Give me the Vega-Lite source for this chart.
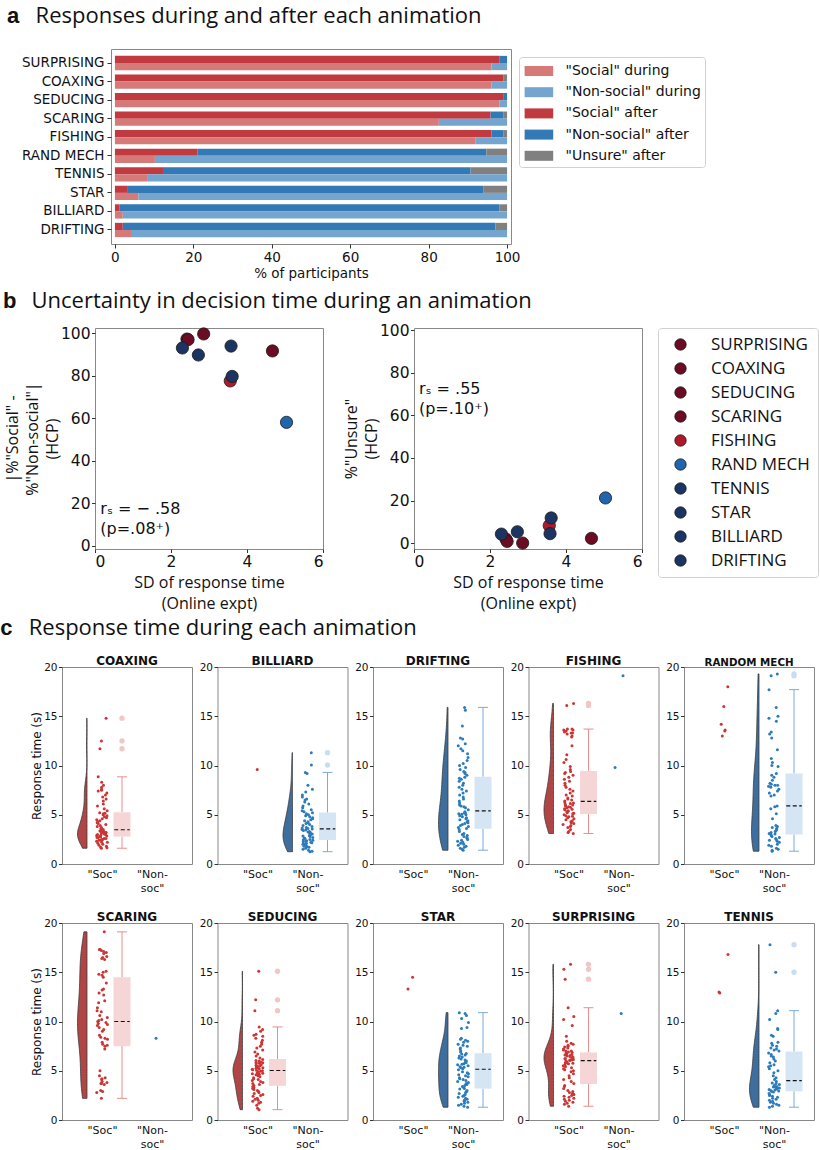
{
"$schema": "https://vega.github.io/schema/vega-lite/v6.json",
"background": "white",
"padding": {"left": 0, "top": 4, "right": 2, "bottom": 2},
"config": {
  "font": "DejaVu Sans",
  "view": {"stroke": "#888888", "strokeWidth": 1},
  "axis": {"grid": false, "domain": false, "tickColor": "#333333", "tickSize": 3.5, "labelColor": "#111111", "titleColor": "#111111", "titleFontWeight": "normal", "labelFontSize": 11, "titleFontSize": 12, "labelPadding": 1.5, "titlePadding": 0},
  "axisY": {"labelFontSize": 10.5},
  "title": {"color": "#111111", "subtitleColor": "#111111"},
  "legend": {"labelColor": "#111111"}
},
"datasets": {
"bars": [
{"anim":"SURPRISING","when":"after","lab":"\"Social\" after","pct":98},
{"anim":"SURPRISING","when":"after","lab":"\"Non-social\" after","pct":2},
{"anim":"SURPRISING","when":"during","lab":"\"Social\" during","pct":96},
{"anim":"SURPRISING","when":"during","lab":"\"Non-social\" during","pct":4},
{"anim":"COAXING","when":"after","lab":"\"Social\" after","pct":99},
{"anim":"COAXING","when":"after","lab":"\"Unsure\" after","pct":1},
{"anim":"COAXING","when":"during","lab":"\"Social\" during","pct":96},
{"anim":"COAXING","when":"during","lab":"\"Non-social\" during","pct":4},
{"anim":"SEDUCING","when":"after","lab":"\"Social\" after","pct":99},
{"anim":"SEDUCING","when":"after","lab":"\"Non-social\" after","pct":1},
{"anim":"SEDUCING","when":"during","lab":"\"Social\" during","pct":98},
{"anim":"SEDUCING","when":"during","lab":"\"Non-social\" during","pct":2},
{"anim":"SCARING","when":"after","lab":"\"Social\" after","pct":95.8},
{"anim":"SCARING","when":"after","lab":"\"Non-social\" after","pct":3.2},
{"anim":"SCARING","when":"after","lab":"\"Unsure\" after","pct":1},
{"anim":"SCARING","when":"during","lab":"\"Social\" during","pct":82.6},
{"anim":"SCARING","when":"during","lab":"\"Non-social\" during","pct":17.4},
{"anim":"FISHING","when":"after","lab":"\"Social\" after","pct":96},
{"anim":"FISHING","when":"after","lab":"\"Non-social\" after","pct":3},
{"anim":"FISHING","when":"after","lab":"\"Unsure\" after","pct":1},
{"anim":"FISHING","when":"during","lab":"\"Social\" during","pct":92},
{"anim":"FISHING","when":"during","lab":"\"Non-social\" during","pct":8},
{"anim":"RAND MECH","when":"after","lab":"\"Social\" after","pct":21},
{"anim":"RAND MECH","when":"after","lab":"\"Non-social\" after","pct":73.7},
{"anim":"RAND MECH","when":"after","lab":"\"Unsure\" after","pct":5.3},
{"anim":"RAND MECH","when":"during","lab":"\"Social\" during","pct":10.2},
{"anim":"RAND MECH","when":"during","lab":"\"Non-social\" during","pct":89.8},
{"anim":"TENNIS","when":"after","lab":"\"Social\" after","pct":12.5},
{"anim":"TENNIS","when":"after","lab":"\"Non-social\" after","pct":78.2},
{"anim":"TENNIS","when":"after","lab":"\"Unsure\" after","pct":9.3},
{"anim":"TENNIS","when":"during","lab":"\"Social\" during","pct":8.2},
{"anim":"TENNIS","when":"during","lab":"\"Non-social\" during","pct":91.8},
{"anim":"STAR","when":"after","lab":"\"Social\" after","pct":3.1},
{"anim":"STAR","when":"after","lab":"\"Non-social\" after","pct":90.8},
{"anim":"STAR","when":"after","lab":"\"Unsure\" after","pct":6.1},
{"anim":"STAR","when":"during","lab":"\"Social\" during","pct":6},
{"anim":"STAR","when":"during","lab":"\"Non-social\" during","pct":94},
{"anim":"BILLIARD","when":"after","lab":"\"Social\" after","pct":1.1},
{"anim":"BILLIARD","when":"after","lab":"\"Non-social\" after","pct":96.9},
{"anim":"BILLIARD","when":"after","lab":"\"Unsure\" after","pct":2},
{"anim":"BILLIARD","when":"during","lab":"\"Social\" during","pct":2},
{"anim":"BILLIARD","when":"during","lab":"\"Non-social\" during","pct":98},
{"anim":"DRIFTING","when":"after","lab":"\"Social\" after","pct":2},
{"anim":"DRIFTING","when":"after","lab":"\"Non-social\" after","pct":95},
{"anim":"DRIFTING","when":"after","lab":"\"Unsure\" after","pct":3},
{"anim":"DRIFTING","when":"during","lab":"\"Social\" during","pct":4.1},
{"anim":"DRIFTING","when":"during","lab":"\"Non-social\" during","pct":95.9}
],
"sc": [
{"anim":"SURPRISING","sd":2.42,"diff":97.3,"unsure":1.9},
{"anim":"COAXING","sd":2.45,"diff":97.0,"unsure":0.8},
{"anim":"SEDUCING","sd":2.86,"diff":99.7,"unsure":0.0},
{"anim":"SCARING","sd":4.67,"diff":91.7,"unsure":2.2},
{"anim":"FISHING","sd":3.56,"diff":77.6,"unsure":8.2},
{"anim":"RAND MECH","sd":5.04,"diff":58.1,"unsure":21.2},
{"anim":"TENNIS","sd":3.61,"diff":79.7,"unsure":11.8},
{"anim":"STAR","sd":3.58,"diff":94.0,"unsure":4.4},
{"anim":"BILLIARD","sd":2.72,"diff":89.8,"unsure":5.3},
{"anim":"DRIFTING","sd":2.30,"diff":93.1,"unsure":4.2}
],
"rt": [
{"a":"COAXING","r":"S","t":1.6},{"a":"COAXING","r":"S","t":1.65},{"a":"COAXING","r":"S","t":1.7},{"a":"COAXING","r":"S","t":1.8},{"a":"COAXING","r":"S","t":1.9},{"a":"COAXING","r":"S","t":2.0},{"a":"COAXING","r":"S","t":2.1},{"a":"COAXING","r":"S","t":2.2},{"a":"COAXING","r":"S","t":2.2},{"a":"COAXING","r":"S","t":2.3},{"a":"COAXING","r":"S","t":2.4},{"a":"COAXING","r":"S","t":2.4},{"a":"COAXING","r":"S","t":2.5},{"a":"COAXING","r":"S","t":2.5},{"a":"COAXING","r":"S","t":2.6},{"a":"COAXING","r":"S","t":2.6},{"a":"COAXING","r":"S","t":2.7},{"a":"COAXING","r":"S","t":2.7},{"a":"COAXING","r":"S","t":2.75},{"a":"COAXING","r":"S","t":2.8},{"a":"COAXING","r":"S","t":2.85},{"a":"COAXING","r":"S","t":2.9},{"a":"COAXING","r":"S","t":2.95},{"a":"COAXING","r":"S","t":3.0},{"a":"COAXING","r":"S","t":3.0},{"a":"COAXING","r":"S","t":3.05},{"a":"COAXING","r":"S","t":3.1},{"a":"COAXING","r":"S","t":3.1},{"a":"COAXING","r":"S","t":3.15},{"a":"COAXING","r":"S","t":3.2},{"a":"COAXING","r":"S","t":3.2},{"a":"COAXING","r":"S","t":3.25},{"a":"COAXING","r":"S","t":3.3},{"a":"COAXING","r":"S","t":3.3},{"a":"COAXING","r":"S","t":3.35},{"a":"COAXING","r":"S","t":3.4},{"a":"COAXING","r":"S","t":3.4},{"a":"COAXING","r":"S","t":3.45},{"a":"COAXING","r":"S","t":3.5},{"a":"COAXING","r":"S","t":3.6},{"a":"COAXING","r":"S","t":3.7},{"a":"COAXING","r":"S","t":3.8},{"a":"COAXING","r":"S","t":3.9},{"a":"COAXING","r":"S","t":4.0},{"a":"COAXING","r":"S","t":4.1},{"a":"COAXING","r":"S","t":4.2},{"a":"COAXING","r":"S","t":4.3},{"a":"COAXING","r":"S","t":4.4},{"a":"COAXING","r":"S","t":4.5},{"a":"COAXING","r":"S","t":4.6},{"a":"COAXING","r":"S","t":4.7},{"a":"COAXING","r":"S","t":4.8},{"a":"COAXING","r":"S","t":4.9},{"a":"COAXING","r":"S","t":5.0},{"a":"COAXING","r":"S","t":5.1},{"a":"COAXING","r":"S","t":5.15},{"a":"COAXING","r":"S","t":5.2},{"a":"COAXING","r":"S","t":5.4},{"a":"COAXING","r":"S","t":5.6},{"a":"COAXING","r":"S","t":5.9},{"a":"COAXING","r":"S","t":6.1},{"a":"COAXING","r":"S","t":6.4},{"a":"COAXING","r":"S","t":6.6},{"a":"COAXING","r":"S","t":6.8},{"a":"COAXING","r":"S","t":7.0},{"a":"COAXING","r":"S","t":7.2},{"a":"COAXING","r":"S","t":7.4},{"a":"COAXING","r":"S","t":7.5},{"a":"COAXING","r":"S","t":7.6},{"a":"COAXING","r":"S","t":7.8},{"a":"COAXING","r":"S","t":8.0},{"a":"COAXING","r":"S","t":8.3},{"a":"COAXING","r":"S","t":8.85},{"a":"COAXING","r":"S","t":11.7},{"a":"COAXING","r":"S","t":12.5},{"a":"COAXING","r":"S","t":14.8},
{"a":"BILLIARD","r":"S","t":9.6},
{"a":"BILLIARD","r":"N","t":1.25},{"a":"BILLIARD","r":"N","t":1.3},{"a":"BILLIARD","r":"N","t":1.4},{"a":"BILLIARD","r":"N","t":1.5},{"a":"BILLIARD","r":"N","t":1.6},{"a":"BILLIARD","r":"N","t":1.7},{"a":"BILLIARD","r":"N","t":1.75},{"a":"BILLIARD","r":"N","t":1.8},{"a":"BILLIARD","r":"N","t":1.9},{"a":"BILLIARD","r":"N","t":2.0},{"a":"BILLIARD","r":"N","t":2.0},{"a":"BILLIARD","r":"N","t":2.1},{"a":"BILLIARD","r":"N","t":2.15},{"a":"BILLIARD","r":"N","t":2.2},{"a":"BILLIARD","r":"N","t":2.25},{"a":"BILLIARD","r":"N","t":2.3},{"a":"BILLIARD","r":"N","t":2.35},{"a":"BILLIARD","r":"N","t":2.4},{"a":"BILLIARD","r":"N","t":2.44},{"a":"BILLIARD","r":"N","t":2.5},{"a":"BILLIARD","r":"N","t":2.6},{"a":"BILLIARD","r":"N","t":2.65},{"a":"BILLIARD","r":"N","t":2.7},{"a":"BILLIARD","r":"N","t":2.8},{"a":"BILLIARD","r":"N","t":2.85},{"a":"BILLIARD","r":"N","t":2.9},{"a":"BILLIARD","r":"N","t":3.0},{"a":"BILLIARD","r":"N","t":3.05},{"a":"BILLIARD","r":"N","t":3.1},{"a":"BILLIARD","r":"N","t":3.2},{"a":"BILLIARD","r":"N","t":3.25},{"a":"BILLIARD","r":"N","t":3.3},{"a":"BILLIARD","r":"N","t":3.4},{"a":"BILLIARD","r":"N","t":3.45},{"a":"BILLIARD","r":"N","t":3.5},{"a":"BILLIARD","r":"N","t":3.55},{"a":"BILLIARD","r":"N","t":3.6},{"a":"BILLIARD","r":"N","t":3.66},{"a":"BILLIARD","r":"N","t":3.7},{"a":"BILLIARD","r":"N","t":3.8},{"a":"BILLIARD","r":"N","t":3.9},{"a":"BILLIARD","r":"N","t":4.0},{"a":"BILLIARD","r":"N","t":4.1},{"a":"BILLIARD","r":"N","t":4.2},{"a":"BILLIARD","r":"N","t":4.3},{"a":"BILLIARD","r":"N","t":4.4},{"a":"BILLIARD","r":"N","t":4.5},{"a":"BILLIARD","r":"N","t":4.6},{"a":"BILLIARD","r":"N","t":4.7},{"a":"BILLIARD","r":"N","t":4.8},{"a":"BILLIARD","r":"N","t":4.9},{"a":"BILLIARD","r":"N","t":5.0},{"a":"BILLIARD","r":"N","t":5.1},{"a":"BILLIARD","r":"N","t":5.2},{"a":"BILLIARD","r":"N","t":5.3},{"a":"BILLIARD","r":"N","t":5.4},{"a":"BILLIARD","r":"N","t":5.5},{"a":"BILLIARD","r":"N","t":5.7},{"a":"BILLIARD","r":"N","t":5.9},{"a":"BILLIARD","r":"N","t":6.1},{"a":"BILLIARD","r":"N","t":6.3},{"a":"BILLIARD","r":"N","t":6.5},{"a":"BILLIARD","r":"N","t":6.6},{"a":"BILLIARD","r":"N","t":6.8},{"a":"BILLIARD","r":"N","t":7.0},{"a":"BILLIARD","r":"N","t":7.3},{"a":"BILLIARD","r":"N","t":7.6},{"a":"BILLIARD","r":"N","t":8.0},{"a":"BILLIARD","r":"N","t":9.2},{"a":"BILLIARD","r":"N","t":9.3},{"a":"BILLIARD","r":"N","t":10.05},{"a":"BILLIARD","r":"N","t":11.3},
{"a":"DRIFTING","r":"N","t":1.4},{"a":"DRIFTING","r":"N","t":1.5},{"a":"DRIFTING","r":"N","t":1.6},{"a":"DRIFTING","r":"N","t":1.7},{"a":"DRIFTING","r":"N","t":1.8},{"a":"DRIFTING","r":"N","t":1.9},{"a":"DRIFTING","r":"N","t":2.0},{"a":"DRIFTING","r":"N","t":2.1},{"a":"DRIFTING","r":"N","t":2.2},{"a":"DRIFTING","r":"N","t":2.3},{"a":"DRIFTING","r":"N","t":2.4},{"a":"DRIFTING","r":"N","t":2.5},{"a":"DRIFTING","r":"N","t":2.6},{"a":"DRIFTING","r":"N","t":2.7},{"a":"DRIFTING","r":"N","t":2.8},{"a":"DRIFTING","r":"N","t":2.9},{"a":"DRIFTING","r":"N","t":3.0},{"a":"DRIFTING","r":"N","t":3.1},{"a":"DRIFTING","r":"N","t":3.3},{"a":"DRIFTING","r":"N","t":3.5},{"a":"DRIFTING","r":"N","t":3.6},{"a":"DRIFTING","r":"N","t":3.7},{"a":"DRIFTING","r":"N","t":3.8},{"a":"DRIFTING","r":"N","t":3.9},{"a":"DRIFTING","r":"N","t":4.0},{"a":"DRIFTING","r":"N","t":4.1},{"a":"DRIFTING","r":"N","t":4.2},{"a":"DRIFTING","r":"N","t":4.3},{"a":"DRIFTING","r":"N","t":4.4},{"a":"DRIFTING","r":"N","t":4.5},{"a":"DRIFTING","r":"N","t":4.6},{"a":"DRIFTING","r":"N","t":4.7},{"a":"DRIFTING","r":"N","t":4.8},{"a":"DRIFTING","r":"N","t":4.9},{"a":"DRIFTING","r":"N","t":5.0},{"a":"DRIFTING","r":"N","t":5.05},{"a":"DRIFTING","r":"N","t":5.1},{"a":"DRIFTING","r":"N","t":5.15},{"a":"DRIFTING","r":"N","t":5.2},{"a":"DRIFTING","r":"N","t":5.3},{"a":"DRIFTING","r":"N","t":5.5},{"a":"DRIFTING","r":"N","t":5.7},{"a":"DRIFTING","r":"N","t":5.8},{"a":"DRIFTING","r":"N","t":5.9},{"a":"DRIFTING","r":"N","t":6.0},{"a":"DRIFTING","r":"N","t":6.2},{"a":"DRIFTING","r":"N","t":6.4},{"a":"DRIFTING","r":"N","t":6.6},{"a":"DRIFTING","r":"N","t":6.8},{"a":"DRIFTING","r":"N","t":7.0},{"a":"DRIFTING","r":"N","t":7.2},{"a":"DRIFTING","r":"N","t":7.4},{"a":"DRIFTING","r":"N","t":7.6},{"a":"DRIFTING","r":"N","t":7.8},{"a":"DRIFTING","r":"N","t":8.0},{"a":"DRIFTING","r":"N","t":8.2},{"a":"DRIFTING","r":"N","t":8.4},{"a":"DRIFTING","r":"N","t":8.6},{"a":"DRIFTING","r":"N","t":8.7},{"a":"DRIFTING","r":"N","t":8.8},{"a":"DRIFTING","r":"N","t":9.0},{"a":"DRIFTING","r":"N","t":9.2},{"a":"DRIFTING","r":"N","t":9.3},{"a":"DRIFTING","r":"N","t":9.4},{"a":"DRIFTING","r":"N","t":9.6},{"a":"DRIFTING","r":"N","t":9.8},{"a":"DRIFTING","r":"N","t":10.0},{"a":"DRIFTING","r":"N","t":10.2},{"a":"DRIFTING","r":"N","t":10.5},{"a":"DRIFTING","r":"N","t":10.8},{"a":"DRIFTING","r":"N","t":11.2},{"a":"DRIFTING","r":"N","t":11.5},{"a":"DRIFTING","r":"N","t":11.7},{"a":"DRIFTING","r":"N","t":12.0},{"a":"DRIFTING","r":"N","t":12.2},{"a":"DRIFTING","r":"N","t":12.7},{"a":"DRIFTING","r":"N","t":12.8},{"a":"DRIFTING","r":"N","t":14.0},{"a":"DRIFTING","r":"N","t":15.6},{"a":"DRIFTING","r":"N","t":15.9},
{"a":"FISHING","r":"S","t":3.1},{"a":"FISHING","r":"S","t":3.2},{"a":"FISHING","r":"S","t":3.3},{"a":"FISHING","r":"S","t":3.5},{"a":"FISHING","r":"S","t":3.7},{"a":"FISHING","r":"S","t":3.8},{"a":"FISHING","r":"S","t":3.9},{"a":"FISHING","r":"S","t":4.0},{"a":"FISHING","r":"S","t":4.1},{"a":"FISHING","r":"S","t":4.2},{"a":"FISHING","r":"S","t":4.3},{"a":"FISHING","r":"S","t":4.4},{"a":"FISHING","r":"S","t":4.5},{"a":"FISHING","r":"S","t":4.6},{"a":"FISHING","r":"S","t":4.7},{"a":"FISHING","r":"S","t":4.8},{"a":"FISHING","r":"S","t":4.85},{"a":"FISHING","r":"S","t":4.9},{"a":"FISHING","r":"S","t":5.0},{"a":"FISHING","r":"S","t":5.1},{"a":"FISHING","r":"S","t":5.15},{"a":"FISHING","r":"S","t":5.2},{"a":"FISHING","r":"S","t":5.3},{"a":"FISHING","r":"S","t":5.35},{"a":"FISHING","r":"S","t":5.4},{"a":"FISHING","r":"S","t":5.5},{"a":"FISHING","r":"S","t":5.55},{"a":"FISHING","r":"S","t":5.6},{"a":"FISHING","r":"S","t":5.7},{"a":"FISHING","r":"S","t":5.75},{"a":"FISHING","r":"S","t":5.8},{"a":"FISHING","r":"S","t":5.9},{"a":"FISHING","r":"S","t":5.95},{"a":"FISHING","r":"S","t":6.0},{"a":"FISHING","r":"S","t":6.1},{"a":"FISHING","r":"S","t":6.15},{"a":"FISHING","r":"S","t":6.2},{"a":"FISHING","r":"S","t":6.3},{"a":"FISHING","r":"S","t":6.4},{"a":"FISHING","r":"S","t":6.5},{"a":"FISHING","r":"S","t":6.6},{"a":"FISHING","r":"S","t":6.7},{"a":"FISHING","r":"S","t":6.9},{"a":"FISHING","r":"S","t":7.0},{"a":"FISHING","r":"S","t":7.2},{"a":"FISHING","r":"S","t":7.4},{"a":"FISHING","r":"S","t":7.6},{"a":"FISHING","r":"S","t":7.8},{"a":"FISHING","r":"S","t":8.0},{"a":"FISHING","r":"S","t":8.2},{"a":"FISHING","r":"S","t":8.4},{"a":"FISHING","r":"S","t":8.6},{"a":"FISHING","r":"S","t":8.8},{"a":"FISHING","r":"S","t":9.0},{"a":"FISHING","r":"S","t":9.2},{"a":"FISHING","r":"S","t":9.3},{"a":"FISHING","r":"S","t":9.4},{"a":"FISHING","r":"S","t":9.6},{"a":"FISHING","r":"S","t":9.9},{"a":"FISHING","r":"S","t":10.3},{"a":"FISHING","r":"S","t":10.6},{"a":"FISHING","r":"S","t":11.1},{"a":"FISHING","r":"S","t":12.0},{"a":"FISHING","r":"S","t":12.9},{"a":"FISHING","r":"S","t":13.0},{"a":"FISHING","r":"S","t":13.2},{"a":"FISHING","r":"S","t":13.3},{"a":"FISHING","r":"S","t":13.3},{"a":"FISHING","r":"S","t":13.4},{"a":"FISHING","r":"S","t":13.5},{"a":"FISHING","r":"S","t":13.6},{"a":"FISHING","r":"S","t":13.6},{"a":"FISHING","r":"S","t":13.7},{"a":"FISHING","r":"S","t":13.7},{"a":"FISHING","r":"S","t":16.1},{"a":"FISHING","r":"S","t":16.3},
{"a":"FISHING","r":"N","t":9.8},{"a":"FISHING","r":"N","t":19.1},
{"a":"RANDOM MECH","r":"S","t":13.0},{"a":"RANDOM MECH","r":"S","t":13.5},{"a":"RANDOM MECH","r":"S","t":13.6},{"a":"RANDOM MECH","r":"S","t":14.2},{"a":"RANDOM MECH","r":"S","t":16.0},{"a":"RANDOM MECH","r":"S","t":18.0},
{"a":"RANDOM MECH","r":"N","t":1.3},{"a":"RANDOM MECH","r":"N","t":1.4},{"a":"RANDOM MECH","r":"N","t":1.5},{"a":"RANDOM MECH","r":"N","t":1.6},{"a":"RANDOM MECH","r":"N","t":1.8},{"a":"RANDOM MECH","r":"N","t":1.9},{"a":"RANDOM MECH","r":"N","t":2.0},{"a":"RANDOM MECH","r":"N","t":2.2},{"a":"RANDOM MECH","r":"N","t":2.3},{"a":"RANDOM MECH","r":"N","t":2.4},{"a":"RANDOM MECH","r":"N","t":2.5},{"a":"RANDOM MECH","r":"N","t":2.6},{"a":"RANDOM MECH","r":"N","t":2.7},{"a":"RANDOM MECH","r":"N","t":2.8},{"a":"RANDOM MECH","r":"N","t":2.9},{"a":"RANDOM MECH","r":"N","t":3.0},{"a":"RANDOM MECH","r":"N","t":3.05},{"a":"RANDOM MECH","r":"N","t":3.1},{"a":"RANDOM MECH","r":"N","t":3.2},{"a":"RANDOM MECH","r":"N","t":3.3},{"a":"RANDOM MECH","r":"N","t":3.4},{"a":"RANDOM MECH","r":"N","t":3.5},{"a":"RANDOM MECH","r":"N","t":3.6},{"a":"RANDOM MECH","r":"N","t":3.7},{"a":"RANDOM MECH","r":"N","t":3.8},{"a":"RANDOM MECH","r":"N","t":3.9},{"a":"RANDOM MECH","r":"N","t":4.6},{"a":"RANDOM MECH","r":"N","t":5.1},{"a":"RANDOM MECH","r":"N","t":5.6},{"a":"RANDOM MECH","r":"N","t":5.8},{"a":"RANDOM MECH","r":"N","t":5.9},{"a":"RANDOM MECH","r":"N","t":6.9},{"a":"RANDOM MECH","r":"N","t":7.0},{"a":"RANDOM MECH","r":"N","t":7.2},{"a":"RANDOM MECH","r":"N","t":7.4},{"a":"RANDOM MECH","r":"N","t":7.6},{"a":"RANDOM MECH","r":"N","t":7.8},{"a":"RANDOM MECH","r":"N","t":7.9},{"a":"RANDOM MECH","r":"N","t":8.0},{"a":"RANDOM MECH","r":"N","t":8.0},{"a":"RANDOM MECH","r":"N","t":8.1},{"a":"RANDOM MECH","r":"N","t":8.2},{"a":"RANDOM MECH","r":"N","t":8.5},{"a":"RANDOM MECH","r":"N","t":8.8},{"a":"RANDOM MECH","r":"N","t":9.0},{"a":"RANDOM MECH","r":"N","t":9.2},{"a":"RANDOM MECH","r":"N","t":9.9},{"a":"RANDOM MECH","r":"N","t":10.0},{"a":"RANDOM MECH","r":"N","t":10.3},{"a":"RANDOM MECH","r":"N","t":10.7},{"a":"RANDOM MECH","r":"N","t":11.6},{"a":"RANDOM MECH","r":"N","t":12.8},{"a":"RANDOM MECH","r":"N","t":13.2},{"a":"RANDOM MECH","r":"N","t":13.4},{"a":"RANDOM MECH","r":"N","t":14.5},{"a":"RANDOM MECH","r":"N","t":14.8},{"a":"RANDOM MECH","r":"N","t":15.0},{"a":"RANDOM MECH","r":"N","t":15.9},{"a":"RANDOM MECH","r":"N","t":17.7},{"a":"RANDOM MECH","r":"N","t":19.1},{"a":"RANDOM MECH","r":"N","t":19.3},
{"a":"SCARING","r":"S","t":2.2},{"a":"SCARING","r":"S","t":2.8},{"a":"SCARING","r":"S","t":2.9},{"a":"SCARING","r":"S","t":3.0},{"a":"SCARING","r":"S","t":3.6},{"a":"SCARING","r":"S","t":3.7},{"a":"SCARING","r":"S","t":3.7},{"a":"SCARING","r":"S","t":3.8},{"a":"SCARING","r":"S","t":3.9},{"a":"SCARING","r":"S","t":4.1},{"a":"SCARING","r":"S","t":4.2},{"a":"SCARING","r":"S","t":4.3},{"a":"SCARING","r":"S","t":4.5},{"a":"SCARING","r":"S","t":5.0},{"a":"SCARING","r":"S","t":7.2},{"a":"SCARING","r":"S","t":7.5},{"a":"SCARING","r":"S","t":7.6},{"a":"SCARING","r":"S","t":7.7},{"a":"SCARING","r":"S","t":7.9},{"a":"SCARING","r":"S","t":8.2},{"a":"SCARING","r":"S","t":8.3},{"a":"SCARING","r":"S","t":8.4},{"a":"SCARING","r":"S","t":8.6},{"a":"SCARING","r":"S","t":9.0},{"a":"SCARING","r":"S","t":9.2},{"a":"SCARING","r":"S","t":9.4},{"a":"SCARING","r":"S","t":9.6},{"a":"SCARING","r":"S","t":9.7},{"a":"SCARING","r":"S","t":9.8},{"a":"SCARING","r":"S","t":9.9},{"a":"SCARING","r":"S","t":10.0},{"a":"SCARING","r":"S","t":10.1},{"a":"SCARING","r":"S","t":10.2},{"a":"SCARING","r":"S","t":10.4},{"a":"SCARING","r":"S","t":10.6},{"a":"SCARING","r":"S","t":11.0},{"a":"SCARING","r":"S","t":11.1},{"a":"SCARING","r":"S","t":11.4},{"a":"SCARING","r":"S","t":11.9},{"a":"SCARING","r":"S","t":12.1},{"a":"SCARING","r":"S","t":12.7},{"a":"SCARING","r":"S","t":12.9},{"a":"SCARING","r":"S","t":13.2},{"a":"SCARING","r":"S","t":13.3},{"a":"SCARING","r":"S","t":13.9},{"a":"SCARING","r":"S","t":14.5},{"a":"SCARING","r":"S","t":14.7},{"a":"SCARING","r":"S","t":14.8},{"a":"SCARING","r":"S","t":15.0},{"a":"SCARING","r":"S","t":15.1},{"a":"SCARING","r":"S","t":16.3},{"a":"SCARING","r":"S","t":16.4},{"a":"SCARING","r":"S","t":16.5},{"a":"SCARING","r":"S","t":16.6},{"a":"SCARING","r":"S","t":16.9},{"a":"SCARING","r":"S","t":17.0},{"a":"SCARING","r":"S","t":17.1},{"a":"SCARING","r":"S","t":17.2},{"a":"SCARING","r":"S","t":17.3},{"a":"SCARING","r":"S","t":17.3},{"a":"SCARING","r":"S","t":19.1},
{"a":"SCARING","r":"N","t":8.3},
{"a":"SEDUCING","r":"S","t":1.05},{"a":"SEDUCING","r":"S","t":1.2},{"a":"SEDUCING","r":"S","t":1.5},{"a":"SEDUCING","r":"S","t":1.7},{"a":"SEDUCING","r":"S","t":1.8},{"a":"SEDUCING","r":"S","t":1.9},{"a":"SEDUCING","r":"S","t":2.0},{"a":"SEDUCING","r":"S","t":2.1},{"a":"SEDUCING","r":"S","t":2.2},{"a":"SEDUCING","r":"S","t":2.4},{"a":"SEDUCING","r":"S","t":2.5},{"a":"SEDUCING","r":"S","t":2.6},{"a":"SEDUCING","r":"S","t":2.7},{"a":"SEDUCING","r":"S","t":2.8},{"a":"SEDUCING","r":"S","t":2.9},{"a":"SEDUCING","r":"S","t":3.0},{"a":"SEDUCING","r":"S","t":3.1},{"a":"SEDUCING","r":"S","t":3.2},{"a":"SEDUCING","r":"S","t":3.3},{"a":"SEDUCING","r":"S","t":3.4},{"a":"SEDUCING","r":"S","t":3.5},{"a":"SEDUCING","r":"S","t":3.6},{"a":"SEDUCING","r":"S","t":3.7},{"a":"SEDUCING","r":"S","t":3.8},{"a":"SEDUCING","r":"S","t":3.9},{"a":"SEDUCING","r":"S","t":4.0},{"a":"SEDUCING","r":"S","t":4.1},{"a":"SEDUCING","r":"S","t":4.2},{"a":"SEDUCING","r":"S","t":4.3},{"a":"SEDUCING","r":"S","t":4.4},{"a":"SEDUCING","r":"S","t":4.5},{"a":"SEDUCING","r":"S","t":4.55},{"a":"SEDUCING","r":"S","t":4.6},{"a":"SEDUCING","r":"S","t":4.65},{"a":"SEDUCING","r":"S","t":4.7},{"a":"SEDUCING","r":"S","t":4.75},{"a":"SEDUCING","r":"S","t":4.8},{"a":"SEDUCING","r":"S","t":4.9},{"a":"SEDUCING","r":"S","t":4.95},{"a":"SEDUCING","r":"S","t":5.0},{"a":"SEDUCING","r":"S","t":5.05},{"a":"SEDUCING","r":"S","t":5.1},{"a":"SEDUCING","r":"S","t":5.15},{"a":"SEDUCING","r":"S","t":5.2},{"a":"SEDUCING","r":"S","t":5.25},{"a":"SEDUCING","r":"S","t":5.3},{"a":"SEDUCING","r":"S","t":5.35},{"a":"SEDUCING","r":"S","t":5.4},{"a":"SEDUCING","r":"S","t":5.45},{"a":"SEDUCING","r":"S","t":5.5},{"a":"SEDUCING","r":"S","t":5.55},{"a":"SEDUCING","r":"S","t":5.6},{"a":"SEDUCING","r":"S","t":5.7},{"a":"SEDUCING","r":"S","t":5.75},{"a":"SEDUCING","r":"S","t":5.8},{"a":"SEDUCING","r":"S","t":5.85},{"a":"SEDUCING","r":"S","t":5.9},{"a":"SEDUCING","r":"S","t":6.0},{"a":"SEDUCING","r":"S","t":6.05},{"a":"SEDUCING","r":"S","t":6.15},{"a":"SEDUCING","r":"S","t":6.3},{"a":"SEDUCING","r":"S","t":6.5},{"a":"SEDUCING","r":"S","t":6.7},{"a":"SEDUCING","r":"S","t":6.9},{"a":"SEDUCING","r":"S","t":7.1},{"a":"SEDUCING","r":"S","t":7.3},{"a":"SEDUCING","r":"S","t":7.5},{"a":"SEDUCING","r":"S","t":7.7},{"a":"SEDUCING","r":"S","t":7.9},{"a":"SEDUCING","r":"S","t":8.1},{"a":"SEDUCING","r":"S","t":8.3},{"a":"SEDUCING","r":"S","t":8.5},{"a":"SEDUCING","r":"S","t":8.6},{"a":"SEDUCING","r":"S","t":8.7},{"a":"SEDUCING","r":"S","t":9.0},{"a":"SEDUCING","r":"S","t":9.2},{"a":"SEDUCING","r":"S","t":9.45},{"a":"SEDUCING","r":"S","t":11.1},{"a":"SEDUCING","r":"S","t":12.2},{"a":"SEDUCING","r":"S","t":15.1},
{"a":"STAR","r":"S","t":13.3},{"a":"STAR","r":"S","t":14.5},
{"a":"STAR","r":"N","t":1.3},{"a":"STAR","r":"N","t":1.4},{"a":"STAR","r":"N","t":1.5},{"a":"STAR","r":"N","t":1.6},{"a":"STAR","r":"N","t":1.7},{"a":"STAR","r":"N","t":1.8},{"a":"STAR","r":"N","t":1.9},{"a":"STAR","r":"N","t":2.0},{"a":"STAR","r":"N","t":2.1},{"a":"STAR","r":"N","t":2.2},{"a":"STAR","r":"N","t":2.3},{"a":"STAR","r":"N","t":2.4},{"a":"STAR","r":"N","t":2.5},{"a":"STAR","r":"N","t":2.6},{"a":"STAR","r":"N","t":2.7},{"a":"STAR","r":"N","t":2.8},{"a":"STAR","r":"N","t":2.9},{"a":"STAR","r":"N","t":3.0},{"a":"STAR","r":"N","t":3.15},{"a":"STAR","r":"N","t":3.2},{"a":"STAR","r":"N","t":3.3},{"a":"STAR","r":"N","t":3.4},{"a":"STAR","r":"N","t":3.5},{"a":"STAR","r":"N","t":3.6},{"a":"STAR","r":"N","t":3.7},{"a":"STAR","r":"N","t":3.8},{"a":"STAR","r":"N","t":3.9},{"a":"STAR","r":"N","t":4.0},{"a":"STAR","r":"N","t":4.1},{"a":"STAR","r":"N","t":4.2},{"a":"STAR","r":"N","t":4.3},{"a":"STAR","r":"N","t":4.4},{"a":"STAR","r":"N","t":4.5},{"a":"STAR","r":"N","t":4.6},{"a":"STAR","r":"N","t":4.7},{"a":"STAR","r":"N","t":4.8},{"a":"STAR","r":"N","t":4.9},{"a":"STAR","r":"N","t":5.1},{"a":"STAR","r":"N","t":5.2},{"a":"STAR","r":"N","t":5.3},{"a":"STAR","r":"N","t":5.35},{"a":"STAR","r":"N","t":5.4},{"a":"STAR","r":"N","t":5.5},{"a":"STAR","r":"N","t":5.6},{"a":"STAR","r":"N","t":5.65},{"a":"STAR","r":"N","t":5.7},{"a":"STAR","r":"N","t":5.8},{"a":"STAR","r":"N","t":5.9},{"a":"STAR","r":"N","t":6.0},{"a":"STAR","r":"N","t":6.1},{"a":"STAR","r":"N","t":6.2},{"a":"STAR","r":"N","t":6.3},{"a":"STAR","r":"N","t":6.4},{"a":"STAR","r":"N","t":6.5},{"a":"STAR","r":"N","t":6.6},{"a":"STAR","r":"N","t":6.7},{"a":"STAR","r":"N","t":6.75},{"a":"STAR","r":"N","t":6.9},{"a":"STAR","r":"N","t":7.0},{"a":"STAR","r":"N","t":7.2},{"a":"STAR","r":"N","t":7.3},{"a":"STAR","r":"N","t":7.5},{"a":"STAR","r":"N","t":7.6},{"a":"STAR","r":"N","t":7.7},{"a":"STAR","r":"N","t":7.9},{"a":"STAR","r":"N","t":8.0},{"a":"STAR","r":"N","t":8.1},{"a":"STAR","r":"N","t":8.2},{"a":"STAR","r":"N","t":8.3},{"a":"STAR","r":"N","t":9.3},{"a":"STAR","r":"N","t":9.4},{"a":"STAR","r":"N","t":9.9},{"a":"STAR","r":"N","t":10.3},{"a":"STAR","r":"N","t":10.6},{"a":"STAR","r":"N","t":10.8},{"a":"STAR","r":"N","t":10.9},
{"a":"SURPRISING","r":"S","t":1.4},{"a":"SURPRISING","r":"S","t":1.6},{"a":"SURPRISING","r":"S","t":1.7},{"a":"SURPRISING","r":"S","t":1.8},{"a":"SURPRISING","r":"S","t":1.9},{"a":"SURPRISING","r":"S","t":2.0},{"a":"SURPRISING","r":"S","t":2.1},{"a":"SURPRISING","r":"S","t":2.2},{"a":"SURPRISING","r":"S","t":2.3},{"a":"SURPRISING","r":"S","t":2.4},{"a":"SURPRISING","r":"S","t":2.5},{"a":"SURPRISING","r":"S","t":2.6},{"a":"SURPRISING","r":"S","t":2.65},{"a":"SURPRISING","r":"S","t":2.7},{"a":"SURPRISING","r":"S","t":2.8},{"a":"SURPRISING","r":"S","t":2.9},{"a":"SURPRISING","r":"S","t":3.0},{"a":"SURPRISING","r":"S","t":3.2},{"a":"SURPRISING","r":"S","t":3.4},{"a":"SURPRISING","r":"S","t":3.5},{"a":"SURPRISING","r":"S","t":3.7},{"a":"SURPRISING","r":"S","t":3.9},{"a":"SURPRISING","r":"S","t":4.1},{"a":"SURPRISING","r":"S","t":4.3},{"a":"SURPRISING","r":"S","t":4.5},{"a":"SURPRISING","r":"S","t":4.7},{"a":"SURPRISING","r":"S","t":4.9},{"a":"SURPRISING","r":"S","t":5.0},{"a":"SURPRISING","r":"S","t":5.1},{"a":"SURPRISING","r":"S","t":5.2},{"a":"SURPRISING","r":"S","t":5.3},{"a":"SURPRISING","r":"S","t":5.4},{"a":"SURPRISING","r":"S","t":5.5},{"a":"SURPRISING","r":"S","t":5.6},{"a":"SURPRISING","r":"S","t":5.7},{"a":"SURPRISING","r":"S","t":5.75},{"a":"SURPRISING","r":"S","t":5.8},{"a":"SURPRISING","r":"S","t":5.85},{"a":"SURPRISING","r":"S","t":5.9},{"a":"SURPRISING","r":"S","t":6.0},{"a":"SURPRISING","r":"S","t":6.05},{"a":"SURPRISING","r":"S","t":6.1},{"a":"SURPRISING","r":"S","t":6.1},{"a":"SURPRISING","r":"S","t":6.15},{"a":"SURPRISING","r":"S","t":6.2},{"a":"SURPRISING","r":"S","t":6.2},{"a":"SURPRISING","r":"S","t":6.25},{"a":"SURPRISING","r":"S","t":6.3},{"a":"SURPRISING","r":"S","t":6.35},{"a":"SURPRISING","r":"S","t":6.4},{"a":"SURPRISING","r":"S","t":6.45},{"a":"SURPRISING","r":"S","t":6.5},{"a":"SURPRISING","r":"S","t":6.55},{"a":"SURPRISING","r":"S","t":6.6},{"a":"SURPRISING","r":"S","t":6.65},{"a":"SURPRISING","r":"S","t":6.7},{"a":"SURPRISING","r":"S","t":6.75},{"a":"SURPRISING","r":"S","t":6.8},{"a":"SURPRISING","r":"S","t":6.8},{"a":"SURPRISING","r":"S","t":6.85},{"a":"SURPRISING","r":"S","t":6.9},{"a":"SURPRISING","r":"S","t":7.0},{"a":"SURPRISING","r":"S","t":7.0},{"a":"SURPRISING","r":"S","t":7.1},{"a":"SURPRISING","r":"S","t":7.2},{"a":"SURPRISING","r":"S","t":7.3},{"a":"SURPRISING","r":"S","t":7.4},{"a":"SURPRISING","r":"S","t":7.5},{"a":"SURPRISING","r":"S","t":7.6},{"a":"SURPRISING","r":"S","t":7.7},{"a":"SURPRISING","r":"S","t":7.8},{"a":"SURPRISING","r":"S","t":8.0},{"a":"SURPRISING","r":"S","t":8.5},{"a":"SURPRISING","r":"S","t":9.6},{"a":"SURPRISING","r":"S","t":10.2},{"a":"SURPRISING","r":"S","t":10.5},{"a":"SURPRISING","r":"S","t":11.4},{"a":"SURPRISING","r":"S","t":14.3},{"a":"SURPRISING","r":"S","t":15.3},{"a":"SURPRISING","r":"S","t":15.8},
{"a":"SURPRISING","r":"N","t":10.8},
{"a":"TENNIS","r":"S","t":12.9},{"a":"TENNIS","r":"S","t":13.0},{"a":"TENNIS","r":"S","t":16.8},
{"a":"TENNIS","r":"N","t":1.3},{"a":"TENNIS","r":"N","t":1.4},{"a":"TENNIS","r":"N","t":1.5},{"a":"TENNIS","r":"N","t":1.6},{"a":"TENNIS","r":"N","t":1.7},{"a":"TENNIS","r":"N","t":1.8},{"a":"TENNIS","r":"N","t":1.9},{"a":"TENNIS","r":"N","t":2.0},{"a":"TENNIS","r":"N","t":2.1},{"a":"TENNIS","r":"N","t":2.2},{"a":"TENNIS","r":"N","t":2.3},{"a":"TENNIS","r":"N","t":2.4},{"a":"TENNIS","r":"N","t":2.5},{"a":"TENNIS","r":"N","t":2.6},{"a":"TENNIS","r":"N","t":2.7},{"a":"TENNIS","r":"N","t":2.85},{"a":"TENNIS","r":"N","t":2.9},{"a":"TENNIS","r":"N","t":2.95},{"a":"TENNIS","r":"N","t":3.0},{"a":"TENNIS","r":"N","t":3.05},{"a":"TENNIS","r":"N","t":3.1},{"a":"TENNIS","r":"N","t":3.15},{"a":"TENNIS","r":"N","t":3.2},{"a":"TENNIS","r":"N","t":3.25},{"a":"TENNIS","r":"N","t":3.3},{"a":"TENNIS","r":"N","t":3.35},{"a":"TENNIS","r":"N","t":3.4},{"a":"TENNIS","r":"N","t":3.45},{"a":"TENNIS","r":"N","t":3.5},{"a":"TENNIS","r":"N","t":3.6},{"a":"TENNIS","r":"N","t":3.7},{"a":"TENNIS","r":"N","t":3.75},{"a":"TENNIS","r":"N","t":3.9},{"a":"TENNIS","r":"N","t":4.1},{"a":"TENNIS","r":"N","t":4.3},{"a":"TENNIS","r":"N","t":4.5},{"a":"TENNIS","r":"N","t":4.8},{"a":"TENNIS","r":"N","t":5.0},{"a":"TENNIS","r":"N","t":5.2},{"a":"TENNIS","r":"N","t":5.4},{"a":"TENNIS","r":"N","t":5.5},{"a":"TENNIS","r":"N","t":5.6},{"a":"TENNIS","r":"N","t":5.8},{"a":"TENNIS","r":"N","t":6.0},{"a":"TENNIS","r":"N","t":6.2},{"a":"TENNIS","r":"N","t":6.4},{"a":"TENNIS","r":"N","t":6.5},{"a":"TENNIS","r":"N","t":6.65},{"a":"TENNIS","r":"N","t":6.8},{"a":"TENNIS","r":"N","t":7.0},{"a":"TENNIS","r":"N","t":7.1},{"a":"TENNIS","r":"N","t":7.2},{"a":"TENNIS","r":"N","t":7.3},{"a":"TENNIS","r":"N","t":7.5},{"a":"TENNIS","r":"N","t":7.6},{"a":"TENNIS","r":"N","t":7.8},{"a":"TENNIS","r":"N","t":7.9},{"a":"TENNIS","r":"N","t":8.5},{"a":"TENNIS","r":"N","t":8.6},{"a":"TENNIS","r":"N","t":9.2},{"a":"TENNIS","r":"N","t":9.3},{"a":"TENNIS","r":"N","t":10.2},{"a":"TENNIS","r":"N","t":10.8},{"a":"TENNIS","r":"N","t":11.1},{"a":"TENNIS","r":"N","t":15.0},{"a":"TENNIS","r":"N","t":17.8}
]
},
"columns": 1,
"spacing": 4,
"align": "none",
"concat": [
{
"columns": 1,
"spacing": 8,
"align": "none",
"resolve": {"scale": {"color": "independent"}, "legend": {"color": "independent"}},
"concat": [
{
"bounds": "flush",
"spacing": 0,
"resolve": {"scale": {"color": "independent"}, "legend": {"color": "independent"}},
"hconcat": [
{"width": 49, "height": 1, "view": {"stroke": "transparent", "fill": null}, "data": {"values": [{}]}, "mark": {"type": "point", "opacity": 0}},
{
  "width": 400, "height": 195,
  "data": {"name": "bars"},
  "title": {"text": "a", "subtitle": "\u200b\u00a0\u00a0\u00a0\u00a0\u00a0Responses during and after each animation", "anchor": "start", "frame": "group", "dx": -104, "font": "Liberation Sans", "fontSize": 22, "fontWeight": "bold", "subtitleFont": "Open Sans", "subtitleFontSize": 22, "subtitleFontWeight": "normal", "subtitlePadding": -22, "offset": 21},
  "transform": [{"calculate": "indexof(datum.lab, 'Non') >= 0 ? 1 : (indexof(datum.lab, 'Unsure') >= 0 ? 2 : 0)", "as": "k"}],
  "mark": {"type": "bar"},
  "encoding": {
    "y": {"field": "anim", "type": "nominal", "sort": ["SURPRISING","COAXING","SEDUCING","SCARING","FISHING","RAND MECH","TENNIS","STAR","BILLIARD","DRIFTING"], "scale": {"paddingInner": 0.23, "paddingOuter": 0.37}, "axis": {"title": null, "labelFontSize": 13.5, "tickSize": 4, "labelPadding": 3}},
    "yOffset": {"field": "when", "type": "nominal", "sort": ["after","during"], "scale": {"paddingInner": 0, "paddingOuter": 0}},
    "x": {"field": "pct", "type": "quantitative", "stack": "zero", "scale": {"domain": [-1, 101], "nice": false, "zero": false}, "axis": {"values": [0,20,40,60,80,100], "title": "% of participants", "labelFontSize": 13.5, "titleFontSize": 13.5, "titlePadding": 3, "tickSize": 4, "labelPadding": 2}},
    "color": {"field": "lab", "type": "nominal",
      "scale": {"domain": ["\"Social\" during","\"Non-social\" during","\"Social\" after","\"Non-social\" after","\"Unsure\" after"], "range": ["#d57979","#74a5cf","#c03a40","#3279b5","#808080"]},
      "legend": {"title": null, "orient": "none", "legendX": 408, "legendY": 8, "padding": 4, "strokeColor": "#d0d0d0", "cornerRadius": 3, "labelFontSize": 14, "labelOffset": 16.6, "symbolOffset": 5.9, "symbolType": "M-1.43,-0.5H1.43V0.5H-1.43Z", "symbolSize": 400, "symbolStrokeWidth": 0, "symbolOpacity": 1, "rowPadding": 4.2}},
    "order": {"field": "k", "type": "quantitative"}
  }
}
]
},
{
"bounds": "flush",
"spacing": 0,
"resolve": {"scale": {"color": "independent"}, "legend": {"color": "independent"}},
"hconcat": [
{"width": 33, "height": 1, "view": {"stroke": "transparent", "fill": null}, "data": {"values": [{}]}, "mark": {"type": "point", "opacity": 0}},
{
  "title": {"text": "b", "subtitle": "\u200b\u00a0\u00a0\u00a0\u00a0\u00a0Uncertainty in decision time during an animation", "anchor": "start", "dx": -1, "font": "Liberation Sans", "fontSize": 22, "fontWeight": "bold", "subtitleFont": "Open Sans", "subtitleFontSize": 22, "subtitleFontWeight": "normal", "subtitlePadding": -22, "offset": 10},
  "bounds": "flush",
  "spacing": 91,
  "hconcat": [
    {
      "width": 228, "height": 221,
      "layer": [
        {"data": {"name": "sc"},
         "mark": {"type": "circle", "size": 150, "stroke": "#1a1a1a", "strokeWidth": 0.8, "opacity": 1},
         "encoding": {
           "x": {"field": "sd", "type": "quantitative", "scale": {"domain": [0,6], "nice": false}, "axis": {"values": [0,2,4,6], "title": ["SD of response time", "(Online expt)"], "labelFontSize": 15.5, "titleFont": "Open Sans", "titleFontSize": 16, "titleLineHeight": 21, "titlePadding": 4, "tickSize": 3.5, "labelPadding": 2}},
           "y": {"field": "diff", "type": "quantitative", "scale": {"domain": [-1.5, 102.5], "nice": false, "zero": false}, "axis": {"values": [0,20,40,60,80,100], "title": ["|%\"Social\" -", "%\"Non-social\"|", "(HCP)"], "labelFontSize": 15.5, "titleFont": "Open Sans", "titleFontSize": 16, "titleLineHeight": 20, "titlePadding": 0, "tickSize": 3.5, "labelPadding": 1.5}},
           "color": {"field": "anim", "type": "nominal",
             "scale": {"domain": ["SURPRISING","COAXING","SEDUCING","SCARING","FISHING","RAND MECH","TENNIS","STAR","BILLIARD","DRIFTING"], "range": ["#6b0b24","#6b0b24","#6b0b24","#6b0b24","#b2182b","#2166ac","#1c3461","#1c3461","#1c3461","#1c3461"]},
             "legend": {"title": null, "orient": "right", "offset": 15, "padding": 8, "strokeColor": "#d0d0d0", "cornerRadius": 3, "labelFont": "Open Sans", "labelFontSize": 17, "labelOffset": 22, "symbolOffset": 6, "symbolType": "circle", "symbolSize": 130, "symbolStrokeColor": "#1a1a1a", "symbolStrokeWidth": 0.8, "symbolOpacity": 1, "rowPadding": 6}}
         }},
        {"data": {"values": [{}]},
         "mark": {"type": "text", "text": ["r\u209b = \u2212 .58", "(p=.08\u207a)"], "align": "left", "baseline": "middle", "fontSize": 16, "lineHeight": 20, "color": "#111111"},
         "encoding": {"x": {"datum": 0.14, "type": "quantitative"}, "y": {"datum": 17.4, "type": "quantitative"}}}
      ]
    },
    {
      "width": 228, "height": 221,
      "layer": [
        {"data": {"name": "sc"},
         "mark": {"type": "circle", "size": 150, "stroke": "#1a1a1a", "strokeWidth": 0.8, "opacity": 1},
         "encoding": {
           "x": {"field": "sd", "type": "quantitative", "scale": {"domain": [0,6], "nice": false}, "axis": {"values": [0,2,4,6], "title": ["SD of response time", "(Online expt)"], "labelFontSize": 15.5, "titleFont": "Open Sans", "titleFontSize": 16, "titleLineHeight": 21, "titlePadding": 4, "tickSize": 3.5, "labelPadding": 2}},
           "y": {"field": "unsure", "type": "quantitative", "scale": {"domain": [-2.8, 101.1], "nice": false, "zero": false}, "axis": {"values": [0,20,40,60,80,100], "title": ["%\"Unsure\"", "(HCP)"], "labelFontSize": 15.5, "titleFont": "Open Sans", "titleFontSize": 16, "titleLineHeight": 20, "titlePadding": 0, "tickSize": 3.5, "labelPadding": 1.5}},
           "color": {"field": "anim", "type": "nominal",
             "scale": {"domain": ["SURPRISING","COAXING","SEDUCING","SCARING","FISHING","RAND MECH","TENNIS","STAR","BILLIARD","DRIFTING"], "range": ["#6b0b24","#6b0b24","#6b0b24","#6b0b24","#b2182b","#2166ac","#1c3461","#1c3461","#1c3461","#1c3461"]},
             "legend": {"title": null, "orient": "right", "offset": 15, "padding": 8, "strokeColor": "#d0d0d0", "cornerRadius": 3, "labelFont": "Open Sans", "labelFontSize": 17, "labelOffset": 22, "symbolOffset": 6, "symbolType": "circle", "symbolSize": 130, "symbolStrokeColor": "#1a1a1a", "symbolStrokeWidth": 0.8, "symbolOpacity": 1, "rowPadding": 6}}
         }},
        {"data": {"values": [{}]},
         "mark": {"type": "text", "text": ["r\u209b = .55", "(p=.10\u207a)"], "align": "left", "baseline": "middle", "fontSize": 16, "lineHeight": 20, "color": "#111111"},
         "encoding": {"x": {"datum": 0.13, "type": "quantitative"}, "y": {"datum": 72.4, "type": "quantitative"}}}
      ]
    }
  ]
}
]
}
]
},
{
  "title": {"text": "c", "subtitle": "\u200b\u00a0\u00a0\u00a0\u00a0\u00a0Response time during each animation", "anchor": "start", "dx": -30, "font": "Liberation Sans", "fontSize": 22, "fontWeight": "bold", "subtitleFont": "Open Sans", "subtitleFontSize": 22, "subtitleFontWeight": "normal", "subtitlePadding": -22, "offset": 15},
  "data": {"name": "rt"},
  "spacing": 16,
  "vconcat": [
  {"spacing": 5.5, "hconcat": [
{"width":130,"height":197,"title":{"text":"COAXING","fontSize":12,"fontWeight":"bold","offset":-6},"transform":[{"filter":"datum.a === 'COAXING'"}],
 "encoding":{"x":{"field":"xp","type":"quantitative","scale":{"domain":[-0.7,1.7],"nice":false,"zero":false},"axis":{"values":[0,1],"ticks":false,"labelPadding":4,"labelLineHeight":14,"labelExpr":"datum.value == 0 ? '\"Soc\"' : ['\"Non-', 'soc\"']"},"title":null},"y":{"field":"t","type":"quantitative","scale":{"domain":[0,20],"nice":false},"axis":{"values":[0,5,10,15,20]},"title":"Response time (s)"}},
 "layer":[
  {"transform":[{"filter":"datum.r === 'S'"},{"density":"t","as":["t","d"],"steps":100},{"joinaggregate":[{"op":"max","field":"d","as":"dm"}]},{"calculate":"-0.3-0.19*datum.d/datum.dm","as":"xp"},{"calculate":"-0.3","as":"xp2"}],"mark":{"type":"area","orient":"horizontal","fill":"#b04545","stroke":"#3a3a3a","strokeWidth":0.8},"encoding":{"x2":{"field":"xp2"}}},
  {"transform":[{"window":[{"op":"row_number","as":"i"}]},{"calculate":"(datum.r === 'S' ? 0 : 1) + ((abs(sin(datum.i*12.9898 + datum.t*78.233)*43758.5453) % 1) - 0.5)*0.22","as":"xp"}],"mark":{"type":"circle","size":9,"opacity":1},"encoding":{"color":{"condition":{"test":"datum.r === 'S'","value":"#cc3535"},"value":"#2c7bba"}}},
  {"transform":[{"filter":"datum.r === 'S'"},{"calculate":"0.4","as":"xp"}],"mark":{"type":"boxplot","orient":"vertical","size":17,"box":{"color":"#f5d5d5"},"median":{"opacity":0},"rule":{"color":"#e98d8d"},"ticks":{"color":"#e98d8d","size":10},"outliers":{"color":"#f3c5c5","filled":true,"size":28,"opacity":1}}},
  {"transform":[{"filter":"datum.r === 'S'"},{"aggregate":[{"op":"median","field":"t","as":"t"}]},{"calculate":"0.245","as":"xp"},{"calculate":"0.555","as":"xp2"}],"mark":{"type":"rule","color":"#111111","strokeDash":[4,2.5],"strokeWidth":1.2},"encoding":{"x2":{"field":"xp2"}}}
 ]},
{"width":130,"height":197,"title":{"text":"BILLIARD","fontSize":12,"fontWeight":"bold","offset":-6},"transform":[{"filter":"datum.a === 'BILLIARD'"}],
 "encoding":{"x":{"field":"xp","type":"quantitative","scale":{"domain":[-0.7,1.7],"nice":false,"zero":false},"axis":{"values":[0,1],"ticks":false,"labelPadding":4,"labelLineHeight":14,"labelExpr":"datum.value == 0 ? '\"Soc\"' : ['\"Non-', 'soc\"']"},"title":null},"y":{"field":"t","type":"quantitative","scale":{"domain":[0,20],"nice":false},"axis":{"values":[0,5,10,15,20]},"title":null}},
 "layer":[
  {"transform":[{"filter":"datum.r === 'N'"},{"density":"t","as":["t","d"],"steps":100},{"joinaggregate":[{"op":"max","field":"d","as":"dm"}]},{"calculate":"0.7-0.19*datum.d/datum.dm","as":"xp"},{"calculate":"0.7","as":"xp2"}],"mark":{"type":"area","orient":"horizontal","fill":"#3d6e9e","stroke":"#3a3a3a","strokeWidth":0.8},"encoding":{"x2":{"field":"xp2"}}},
  {"transform":[{"window":[{"op":"row_number","as":"i"}]},{"calculate":"(datum.r === 'S' ? 0 : 1) + ((abs(sin(datum.i*12.9898 + datum.t*78.233)*43758.5453) % 1) - 0.5)*0.22","as":"xp"}],"mark":{"type":"circle","size":9,"opacity":1},"encoding":{"color":{"condition":{"test":"datum.r === 'S'","value":"#cc3535"},"value":"#2c7bba"}}},
  {"transform":[{"filter":"datum.r === 'N'"},{"calculate":"1.4","as":"xp"}],"mark":{"type":"boxplot","orient":"vertical","size":17,"box":{"color":"#d5e5f4"},"median":{"opacity":0},"rule":{"color":"#7aabd9"},"ticks":{"color":"#7aabd9","size":10},"outliers":{"color":"#c8ddf1","filled":true,"size":28,"opacity":1}}},
  {"transform":[{"filter":"datum.r === 'N'"},{"aggregate":[{"op":"median","field":"t","as":"t"}]},{"calculate":"1.245","as":"xp"},{"calculate":"1.555","as":"xp2"}],"mark":{"type":"rule","color":"#111111","strokeDash":[4,2.5],"strokeWidth":1.2},"encoding":{"x2":{"field":"xp2"}}}
 ]},
{"width":130,"height":197,"title":{"text":"DRIFTING","fontSize":12,"fontWeight":"bold","offset":-6},"transform":[{"filter":"datum.a === 'DRIFTING'"}],
 "encoding":{"x":{"field":"xp","type":"quantitative","scale":{"domain":[-0.7,1.7],"nice":false,"zero":false},"axis":{"values":[0,1],"ticks":false,"labelPadding":4,"labelLineHeight":14,"labelExpr":"datum.value == 0 ? '\"Soc\"' : ['\"Non-', 'soc\"']"},"title":null},"y":{"field":"t","type":"quantitative","scale":{"domain":[0,20],"nice":false},"axis":{"values":[0,5,10,15,20]},"title":null}},
 "layer":[
  {"transform":[{"filter":"datum.r === 'N'"},{"density":"t","as":["t","d"],"steps":100},{"joinaggregate":[{"op":"max","field":"d","as":"dm"}]},{"calculate":"0.7-0.19*datum.d/datum.dm","as":"xp"},{"calculate":"0.7","as":"xp2"}],"mark":{"type":"area","orient":"horizontal","fill":"#3d6e9e","stroke":"#3a3a3a","strokeWidth":0.8},"encoding":{"x2":{"field":"xp2"}}},
  {"transform":[{"window":[{"op":"row_number","as":"i"}]},{"calculate":"(datum.r === 'S' ? 0 : 1) + ((abs(sin(datum.i*12.9898 + datum.t*78.233)*43758.5453) % 1) - 0.5)*0.22","as":"xp"}],"mark":{"type":"circle","size":9,"opacity":1},"encoding":{"color":{"condition":{"test":"datum.r === 'S'","value":"#cc3535"},"value":"#2c7bba"}}},
  {"transform":[{"filter":"datum.r === 'N'"},{"calculate":"1.4","as":"xp"}],"mark":{"type":"boxplot","orient":"vertical","size":17,"box":{"color":"#d5e5f4"},"median":{"opacity":0},"rule":{"color":"#7aabd9"},"ticks":{"color":"#7aabd9","size":10},"outliers":{"color":"#c8ddf1","filled":true,"size":28,"opacity":1}}},
  {"transform":[{"filter":"datum.r === 'N'"},{"aggregate":[{"op":"median","field":"t","as":"t"}]},{"calculate":"1.245","as":"xp"},{"calculate":"1.555","as":"xp2"}],"mark":{"type":"rule","color":"#111111","strokeDash":[4,2.5],"strokeWidth":1.2},"encoding":{"x2":{"field":"xp2"}}}
 ]},
{"width":130,"height":197,"title":{"text":"FISHING","fontSize":12,"fontWeight":"bold","offset":-6},"transform":[{"filter":"datum.a === 'FISHING'"}],
 "encoding":{"x":{"field":"xp","type":"quantitative","scale":{"domain":[-0.7,1.7],"nice":false,"zero":false},"axis":{"values":[0,1],"ticks":false,"labelPadding":4,"labelLineHeight":14,"labelExpr":"datum.value == 0 ? '\"Soc\"' : ['\"Non-', 'soc\"']"},"title":null},"y":{"field":"t","type":"quantitative","scale":{"domain":[0,20],"nice":false},"axis":{"values":[0,5,10,15,20]},"title":null}},
 "layer":[
  {"transform":[{"filter":"datum.r === 'S'"},{"density":"t","as":["t","d"],"steps":100},{"joinaggregate":[{"op":"max","field":"d","as":"dm"}]},{"calculate":"-0.3-0.19*datum.d/datum.dm","as":"xp"},{"calculate":"-0.3","as":"xp2"}],"mark":{"type":"area","orient":"horizontal","fill":"#b04545","stroke":"#3a3a3a","strokeWidth":0.8},"encoding":{"x2":{"field":"xp2"}}},
  {"transform":[{"window":[{"op":"row_number","as":"i"}]},{"calculate":"(datum.r === 'S' ? 0 : 1) + ((abs(sin(datum.i*12.9898 + datum.t*78.233)*43758.5453) % 1) - 0.5)*0.22","as":"xp"}],"mark":{"type":"circle","size":9,"opacity":1},"encoding":{"color":{"condition":{"test":"datum.r === 'S'","value":"#cc3535"},"value":"#2c7bba"}}},
  {"transform":[{"filter":"datum.r === 'S'"},{"calculate":"0.4","as":"xp"}],"mark":{"type":"boxplot","orient":"vertical","size":17,"box":{"color":"#f5d5d5"},"median":{"opacity":0},"rule":{"color":"#e98d8d"},"ticks":{"color":"#e98d8d","size":10},"outliers":{"color":"#f3c5c5","filled":true,"size":28,"opacity":1}}},
  {"transform":[{"filter":"datum.r === 'S'"},{"aggregate":[{"op":"median","field":"t","as":"t"}]},{"calculate":"0.245","as":"xp"},{"calculate":"0.555","as":"xp2"}],"mark":{"type":"rule","color":"#111111","strokeDash":[4,2.5],"strokeWidth":1.2},"encoding":{"x2":{"field":"xp2"}}}
 ]},
{"width":130,"height":197,"title":{"text":"RANDOM MECH","fontSize":10.3,"fontWeight":"bold","offset":-6},"transform":[{"filter":"datum.a === 'RANDOM MECH'"}],
 "encoding":{"x":{"field":"xp","type":"quantitative","scale":{"domain":[-0.7,1.7],"nice":false,"zero":false},"axis":{"values":[0,1],"ticks":false,"labelPadding":4,"labelLineHeight":14,"labelExpr":"datum.value == 0 ? '\"Soc\"' : ['\"Non-', 'soc\"']"},"title":null},"y":{"field":"t","type":"quantitative","scale":{"domain":[0,20],"nice":false},"axis":{"values":[0,5,10,15,20]},"title":null}},
 "layer":[
  {"transform":[{"filter":"datum.r === 'N'"},{"density":"t","as":["t","d"],"steps":100},{"joinaggregate":[{"op":"max","field":"d","as":"dm"}]},{"calculate":"0.7-0.15*datum.d/datum.dm","as":"xp"},{"calculate":"0.7","as":"xp2"}],"mark":{"type":"area","orient":"horizontal","fill":"#3d6e9e","stroke":"#3a3a3a","strokeWidth":0.8},"encoding":{"x2":{"field":"xp2"}}},
  {"transform":[{"window":[{"op":"row_number","as":"i"}]},{"calculate":"(datum.r === 'S' ? 0 : 1) + ((abs(sin(datum.i*12.9898 + datum.t*78.233)*43758.5453) % 1) - 0.5)*0.22","as":"xp"}],"mark":{"type":"circle","size":9,"opacity":1},"encoding":{"color":{"condition":{"test":"datum.r === 'S'","value":"#cc3535"},"value":"#2c7bba"}}},
  {"transform":[{"filter":"datum.r === 'N'"},{"calculate":"1.4","as":"xp"}],"mark":{"type":"boxplot","orient":"vertical","size":17,"box":{"color":"#d5e5f4"},"median":{"opacity":0},"rule":{"color":"#7aabd9"},"ticks":{"color":"#7aabd9","size":10},"outliers":{"color":"#c8ddf1","filled":true,"size":28,"opacity":1}}},
  {"transform":[{"filter":"datum.r === 'N'"},{"aggregate":[{"op":"median","field":"t","as":"t"}]},{"calculate":"1.245","as":"xp"},{"calculate":"1.555","as":"xp2"}],"mark":{"type":"rule","color":"#111111","strokeDash":[4,2.5],"strokeWidth":1.2},"encoding":{"x2":{"field":"xp2"}}}
 ]}
  ]},
  {"spacing": 5.5, "hconcat": [
{"width":130,"height":197,"title":{"text":"SCARING","fontSize":12,"fontWeight":"bold","offset":-6},"transform":[{"filter":"datum.a === 'SCARING'"}],
 "encoding":{"x":{"field":"xp","type":"quantitative","scale":{"domain":[-0.7,1.7],"nice":false,"zero":false},"axis":{"values":[0,1],"ticks":false,"labelPadding":4,"labelLineHeight":14,"labelExpr":"datum.value == 0 ? '\"Soc\"' : ['\"Non-', 'soc\"']"},"title":null},"y":{"field":"t","type":"quantitative","scale":{"domain":[0,20],"nice":false},"axis":{"values":[0,5,10,15,20]},"title":"Response time (s)"}},
 "layer":[
  {"transform":[{"filter":"datum.r === 'S'"},{"density":"t","as":["t","d"],"steps":100},{"joinaggregate":[{"op":"max","field":"d","as":"dm"}]},{"calculate":"-0.3-0.19*datum.d/datum.dm","as":"xp"},{"calculate":"-0.3","as":"xp2"}],"mark":{"type":"area","orient":"horizontal","fill":"#b04545","stroke":"#3a3a3a","strokeWidth":0.8},"encoding":{"x2":{"field":"xp2"}}},
  {"transform":[{"window":[{"op":"row_number","as":"i"}]},{"calculate":"(datum.r === 'S' ? 0 : 1) + ((abs(sin(datum.i*12.9898 + datum.t*78.233)*43758.5453) % 1) - 0.5)*0.22","as":"xp"}],"mark":{"type":"circle","size":9,"opacity":1},"encoding":{"color":{"condition":{"test":"datum.r === 'S'","value":"#cc3535"},"value":"#2c7bba"}}},
  {"transform":[{"filter":"datum.r === 'S'"},{"calculate":"0.4","as":"xp"}],"mark":{"type":"boxplot","orient":"vertical","size":17,"box":{"color":"#f5d5d5"},"median":{"opacity":0},"rule":{"color":"#e98d8d"},"ticks":{"color":"#e98d8d","size":10},"outliers":{"color":"#f3c5c5","filled":true,"size":28,"opacity":1}}},
  {"transform":[{"filter":"datum.r === 'S'"},{"aggregate":[{"op":"median","field":"t","as":"t"}]},{"calculate":"0.245","as":"xp"},{"calculate":"0.555","as":"xp2"}],"mark":{"type":"rule","color":"#111111","strokeDash":[4,2.5],"strokeWidth":1.2},"encoding":{"x2":{"field":"xp2"}}}
 ]},
{"width":130,"height":197,"title":{"text":"SEDUCING","fontSize":12,"fontWeight":"bold","offset":-6},"transform":[{"filter":"datum.a === 'SEDUCING'"}],
 "encoding":{"x":{"field":"xp","type":"quantitative","scale":{"domain":[-0.7,1.7],"nice":false,"zero":false},"axis":{"values":[0,1],"ticks":false,"labelPadding":4,"labelLineHeight":14,"labelExpr":"datum.value == 0 ? '\"Soc\"' : ['\"Non-', 'soc\"']"},"title":null},"y":{"field":"t","type":"quantitative","scale":{"domain":[0,20],"nice":false},"axis":{"values":[0,5,10,15,20]},"title":null}},
 "layer":[
  {"transform":[{"filter":"datum.r === 'S'"},{"density":"t","as":["t","d"],"steps":100},{"joinaggregate":[{"op":"max","field":"d","as":"dm"}]},{"calculate":"-0.3-0.19*datum.d/datum.dm","as":"xp"},{"calculate":"-0.3","as":"xp2"}],"mark":{"type":"area","orient":"horizontal","fill":"#b04545","stroke":"#3a3a3a","strokeWidth":0.8},"encoding":{"x2":{"field":"xp2"}}},
  {"transform":[{"window":[{"op":"row_number","as":"i"}]},{"calculate":"(datum.r === 'S' ? 0 : 1) + ((abs(sin(datum.i*12.9898 + datum.t*78.233)*43758.5453) % 1) - 0.5)*0.22","as":"xp"}],"mark":{"type":"circle","size":9,"opacity":1},"encoding":{"color":{"condition":{"test":"datum.r === 'S'","value":"#cc3535"},"value":"#2c7bba"}}},
  {"transform":[{"filter":"datum.r === 'S'"},{"calculate":"0.4","as":"xp"}],"mark":{"type":"boxplot","orient":"vertical","size":17,"box":{"color":"#f5d5d5"},"median":{"opacity":0},"rule":{"color":"#e98d8d"},"ticks":{"color":"#e98d8d","size":10},"outliers":{"color":"#f3c5c5","filled":true,"size":28,"opacity":1}}},
  {"transform":[{"filter":"datum.r === 'S'"},{"aggregate":[{"op":"median","field":"t","as":"t"}]},{"calculate":"0.245","as":"xp"},{"calculate":"0.555","as":"xp2"}],"mark":{"type":"rule","color":"#111111","strokeDash":[4,2.5],"strokeWidth":1.2},"encoding":{"x2":{"field":"xp2"}}}
 ]},
{"width":130,"height":197,"title":{"text":"STAR","fontSize":12,"fontWeight":"bold","offset":-6},"transform":[{"filter":"datum.a === 'STAR'"}],
 "encoding":{"x":{"field":"xp","type":"quantitative","scale":{"domain":[-0.7,1.7],"nice":false,"zero":false},"axis":{"values":[0,1],"ticks":false,"labelPadding":4,"labelLineHeight":14,"labelExpr":"datum.value == 0 ? '\"Soc\"' : ['\"Non-', 'soc\"']"},"title":null},"y":{"field":"t","type":"quantitative","scale":{"domain":[0,20],"nice":false},"axis":{"values":[0,5,10,15,20]},"title":null}},
 "layer":[
  {"transform":[{"filter":"datum.r === 'N'"},{"density":"t","as":["t","d"],"steps":100},{"joinaggregate":[{"op":"max","field":"d","as":"dm"}]},{"calculate":"0.7-0.19*datum.d/datum.dm","as":"xp"},{"calculate":"0.7","as":"xp2"}],"mark":{"type":"area","orient":"horizontal","fill":"#3d6e9e","stroke":"#3a3a3a","strokeWidth":0.8},"encoding":{"x2":{"field":"xp2"}}},
  {"transform":[{"window":[{"op":"row_number","as":"i"}]},{"calculate":"(datum.r === 'S' ? 0 : 1) + ((abs(sin(datum.i*12.9898 + datum.t*78.233)*43758.5453) % 1) - 0.5)*0.22","as":"xp"}],"mark":{"type":"circle","size":9,"opacity":1},"encoding":{"color":{"condition":{"test":"datum.r === 'S'","value":"#cc3535"},"value":"#2c7bba"}}},
  {"transform":[{"filter":"datum.r === 'N'"},{"calculate":"1.4","as":"xp"}],"mark":{"type":"boxplot","orient":"vertical","size":17,"box":{"color":"#d5e5f4"},"median":{"opacity":0},"rule":{"color":"#7aabd9"},"ticks":{"color":"#7aabd9","size":10},"outliers":{"color":"#c8ddf1","filled":true,"size":28,"opacity":1}}},
  {"transform":[{"filter":"datum.r === 'N'"},{"aggregate":[{"op":"median","field":"t","as":"t"}]},{"calculate":"1.245","as":"xp"},{"calculate":"1.555","as":"xp2"}],"mark":{"type":"rule","color":"#111111","strokeDash":[4,2.5],"strokeWidth":1.2},"encoding":{"x2":{"field":"xp2"}}}
 ]},
{"width":130,"height":197,"title":{"text":"SURPRISING","fontSize":12,"fontWeight":"bold","offset":-6},"transform":[{"filter":"datum.a === 'SURPRISING'"}],
 "encoding":{"x":{"field":"xp","type":"quantitative","scale":{"domain":[-0.7,1.7],"nice":false,"zero":false},"axis":{"values":[0,1],"ticks":false,"labelPadding":4,"labelLineHeight":14,"labelExpr":"datum.value == 0 ? '\"Soc\"' : ['\"Non-', 'soc\"']"},"title":null},"y":{"field":"t","type":"quantitative","scale":{"domain":[0,20],"nice":false},"axis":{"values":[0,5,10,15,20]},"title":null}},
 "layer":[
  {"transform":[{"filter":"datum.r === 'S'"},{"density":"t","as":["t","d"],"steps":100},{"joinaggregate":[{"op":"max","field":"d","as":"dm"}]},{"calculate":"-0.3-0.19*datum.d/datum.dm","as":"xp"},{"calculate":"-0.3","as":"xp2"}],"mark":{"type":"area","orient":"horizontal","fill":"#b04545","stroke":"#3a3a3a","strokeWidth":0.8},"encoding":{"x2":{"field":"xp2"}}},
  {"transform":[{"window":[{"op":"row_number","as":"i"}]},{"calculate":"(datum.r === 'S' ? 0 : 1) + ((abs(sin(datum.i*12.9898 + datum.t*78.233)*43758.5453) % 1) - 0.5)*0.22","as":"xp"}],"mark":{"type":"circle","size":9,"opacity":1},"encoding":{"color":{"condition":{"test":"datum.r === 'S'","value":"#cc3535"},"value":"#2c7bba"}}},
  {"transform":[{"filter":"datum.r === 'S'"},{"calculate":"0.4","as":"xp"}],"mark":{"type":"boxplot","orient":"vertical","size":17,"box":{"color":"#f5d5d5"},"median":{"opacity":0},"rule":{"color":"#e98d8d"},"ticks":{"color":"#e98d8d","size":10},"outliers":{"color":"#f3c5c5","filled":true,"size":28,"opacity":1}}},
  {"transform":[{"filter":"datum.r === 'S'"},{"aggregate":[{"op":"median","field":"t","as":"t"}]},{"calculate":"0.245","as":"xp"},{"calculate":"0.555","as":"xp2"}],"mark":{"type":"rule","color":"#111111","strokeDash":[4,2.5],"strokeWidth":1.2},"encoding":{"x2":{"field":"xp2"}}}
 ]},
{"width":130,"height":197,"title":{"text":"TENNIS","fontSize":12,"fontWeight":"bold","offset":-6},"transform":[{"filter":"datum.a === 'TENNIS'"}],
 "encoding":{"x":{"field":"xp","type":"quantitative","scale":{"domain":[-0.7,1.7],"nice":false,"zero":false},"axis":{"values":[0,1],"ticks":false,"labelPadding":4,"labelLineHeight":14,"labelExpr":"datum.value == 0 ? '\"Soc\"' : ['\"Non-', 'soc\"']"},"title":null},"y":{"field":"t","type":"quantitative","scale":{"domain":[0,20],"nice":false},"axis":{"values":[0,5,10,15,20]},"title":null}},
 "layer":[
  {"transform":[{"filter":"datum.r === 'N'"},{"density":"t","as":["t","d"],"steps":100},{"joinaggregate":[{"op":"max","field":"d","as":"dm"}]},{"calculate":"0.7-0.19*datum.d/datum.dm","as":"xp"},{"calculate":"0.7","as":"xp2"}],"mark":{"type":"area","orient":"horizontal","fill":"#3d6e9e","stroke":"#3a3a3a","strokeWidth":0.8},"encoding":{"x2":{"field":"xp2"}}},
  {"transform":[{"window":[{"op":"row_number","as":"i"}]},{"calculate":"(datum.r === 'S' ? 0 : 1) + ((abs(sin(datum.i*12.9898 + datum.t*78.233)*43758.5453) % 1) - 0.5)*0.22","as":"xp"}],"mark":{"type":"circle","size":9,"opacity":1},"encoding":{"color":{"condition":{"test":"datum.r === 'S'","value":"#cc3535"},"value":"#2c7bba"}}},
  {"transform":[{"filter":"datum.r === 'N'"},{"calculate":"1.4","as":"xp"}],"mark":{"type":"boxplot","orient":"vertical","size":17,"box":{"color":"#d5e5f4"},"median":{"opacity":0},"rule":{"color":"#7aabd9"},"ticks":{"color":"#7aabd9","size":10},"outliers":{"color":"#c8ddf1","filled":true,"size":28,"opacity":1}}},
  {"transform":[{"filter":"datum.r === 'N'"},{"aggregate":[{"op":"median","field":"t","as":"t"}]},{"calculate":"1.245","as":"xp"},{"calculate":"1.555","as":"xp2"}],"mark":{"type":"rule","color":"#111111","strokeDash":[4,2.5],"strokeWidth":1.2},"encoding":{"x2":{"field":"xp2"}}}
 ]}
  ]}
  ]
}
]
}
